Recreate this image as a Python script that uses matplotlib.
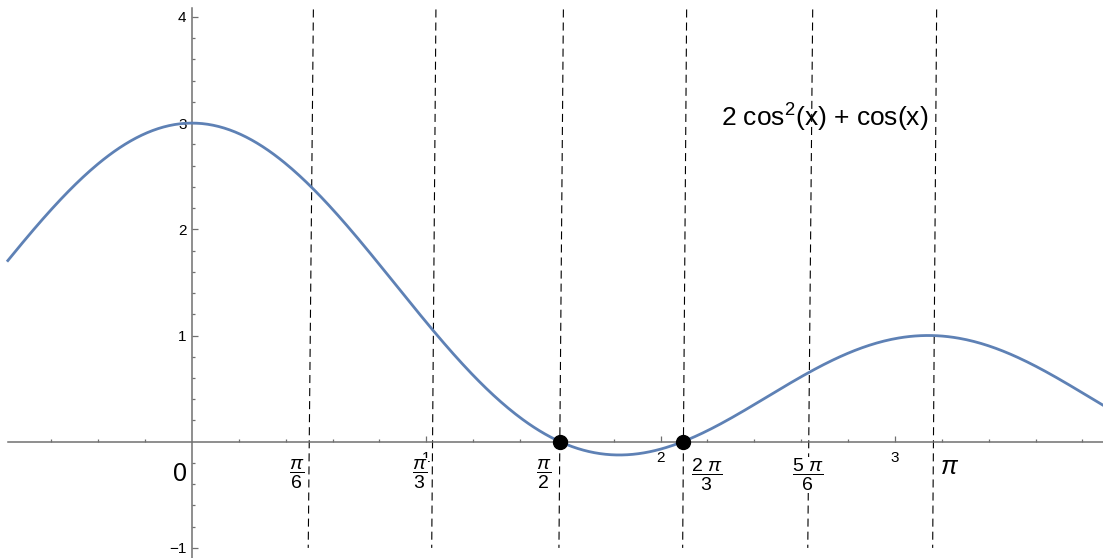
import numpy as np
import matplotlib
matplotlib.use('Agg')
import matplotlib.pyplot as plt

plt.rcParams['font.family'] = ['Liberation Sans', 'DejaVu Sans']
plt.rcParams['mathtext.fontset'] = 'custom'
plt.rcParams['mathtext.rm'] = 'Liberation Sans'
plt.rcParams['mathtext.it'] = 'Liberation Sans:italic'
plt.rcParams['mathtext.bf'] = 'Liberation Sans:bold'
plt.rcParams['lines.scale_dashes'] = False

# plotted function (from the chart label 2 cos^2(x) + cos(x))
x_start, x_end = -0.786, 3.90
x = np.linspace(x_start, x_end, 600)
y = 2 * np.cos(x) ** 2 + np.cos(x)

# marked roots
root_x = [np.pi / 2, 2 * np.pi / 3]
root_y = [0, 0]

# dashed guide lines (slightly slanted in the picture): x at top and at bottom
guide_top_x = [0.518, 1.041, 1.585, 2.111, 2.649, 3.178]
guide_bot_x = [0.496, 1.023, 1.566, 2.094, 2.628, 3.161]
guide_top_y = 4.07
guide_bot_y = -1.0

# fraction labels below the axis
frac_labels = [r'$\dfrac{\pi}{6}$', r'$\dfrac{\pi}{3}$', r'$\dfrac{\pi}{2}$',
               r'$\dfrac{2\ \pi}{3}$', r'$\dfrac{5\ \pi}{6}$']
frac_x = [0.448, 0.973, 1.499, 2.197, 2.630]
frac_y = -0.31

x_major = [1, 2, 3]
y_major = [-1, 1, 2, 3, 4]
y_labels = ['\u22121', '1', '2', '3', '4']

fig = plt.figure(figsize=(11.03, 5.58), dpi=100)
ax = fig.add_axes([0, 0, 1, 1])
ax.set_xlim(-0.8195, 3.888)
ax.set_ylim(-1.095, 4.159)

axis_col = '#707070'
for side in ['top', 'right']:
    ax.spines[side].set_visible(False)
ax.spines['left'].set_position(('data', 0))
ax.spines['bottom'].set_position(('data', 0))
ax.spines['left'].set_bounds(-1.095, 4.08)
ax.spines['bottom'].set_bounds(x_start, 3.888)
for side in ['left', 'bottom']:
    ax.spines[side].set_color(axis_col)
    ax.spines[side].set_linewidth(1.1)

ax.set_xticks(x_major)
ax.set_xticks([v for v in np.arange(-0.6, 3.81, 0.2) if abs(v - round(v)) > 1e-6], minor=True)
ax.set_yticks(y_major)
ax.set_yticklabels(y_labels)
ax.set_yticks([v for v in np.arange(-1.0, 4.01, 0.2) if abs(v - round(v)) > 1e-6], minor=True)
ax.tick_params(which='both', direction='in', color=axis_col, width=0.9, labelsize=11)
ax.tick_params(which='major', length=4.5)
ax.tick_params(which='minor', length=2.5)
ax.tick_params(axis='x', which='major', pad=7)
ax.tick_params(axis='y', which='major', pad=4)

for xt, xb in zip(guide_top_x, guide_bot_x):
    ax.plot([xt, xb], [guide_top_y, guide_bot_y], color='black', lw=0.8,
            dashes=(5.8, 3.6), zorder=2)

ax.plot(x, y, color='#5E81B5', lw=2.0, zorder=3)
ax.plot(root_x, root_y, 'o', color='black', markersize=10, zorder=4)

for lab, lx in zip(frac_labels, frac_x):
    ax.text(lx, frac_y, lab, fontsize=14, ha='center', va='center', zorder=5,
            bbox=dict(facecolor='white', edgecolor='none', pad=0))

ax.text(-0.051, -0.304, '0', fontsize=18, ha='center', va='center')
ax.text(3.235, -0.235, r'$\pi$', fontsize=18, ha='center', va='center')
ax.text(2.70, 3.05, r'2 cos$^2$(x) + cos(x)', fontsize=19,
        ha='center', va='center', zorder=1)

fig.savefig('out.png', dpi=100)
